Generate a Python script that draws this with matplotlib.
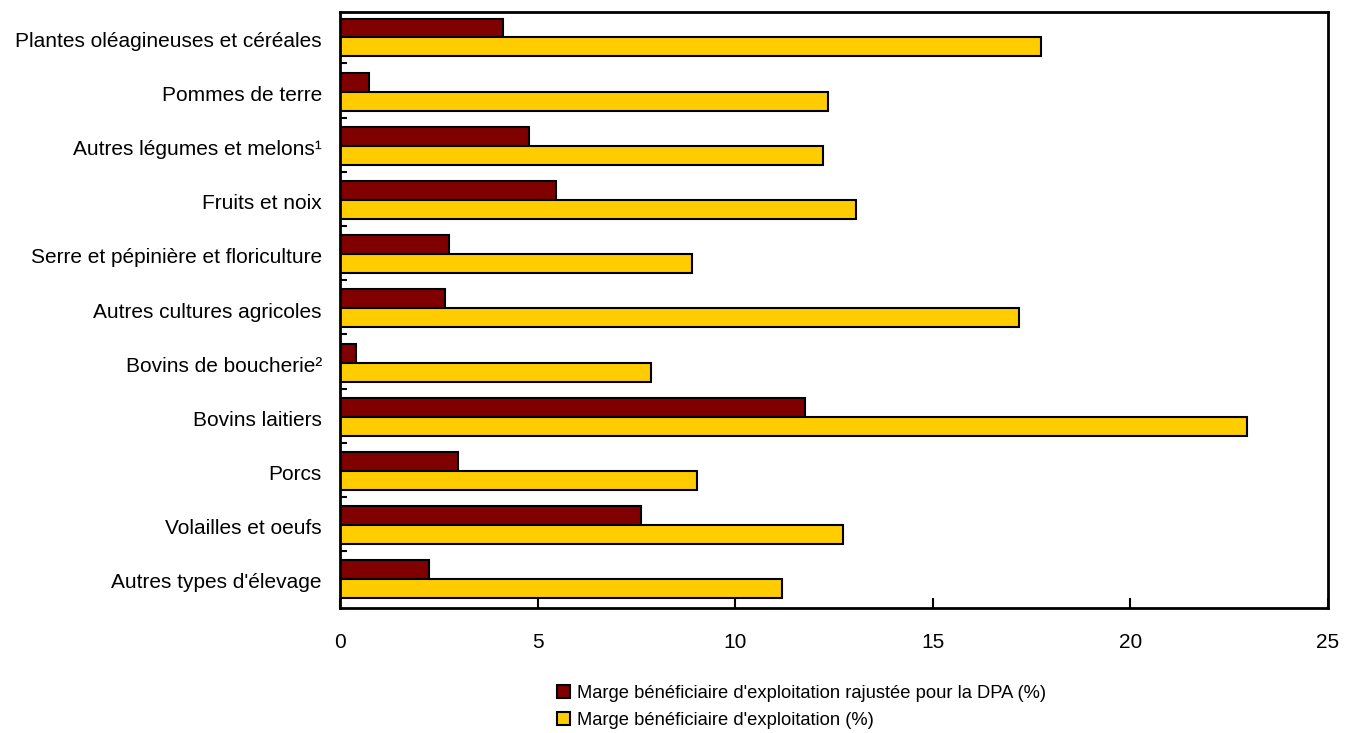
import matplotlib
matplotlib.use("Agg")
import matplotlib.pyplot as plt
import numpy as np
from matplotlib.patches import Patch

categories = ["Plantes oléagineuses et céréales", "Pommes de terre", "Autres légumes et melons¹",
              "Fruits et noix", "Serre et pépinière et floriculture", "Autres cultures agricoles",
              "Bovins de boucherie²", "Bovins laitiers", "Porcs", "Volailles et oeufs",
              "Autres types d'élevage"]
adjusted = [4.12, 0.73, 4.78, 5.47, 2.76, 2.66, 0.40, 11.77, 2.99, 7.62, 2.25]
operating = [17.74, 12.35, 12.22, 13.06, 8.91, 17.18, 7.87, 22.95, 9.03, 12.73, 11.18]
xticks = [0, 5, 10, 15, 20, 25]
labels = ["Marge bénéficiaire d'exploitation rajustée pour la DPA (%)",
          "Marge bénéficiaire d'exploitation (%)"]

plt.rcParams['font.family'] = ['Liberation Sans', 'DejaVu Sans']
fig = plt.figure(figsize=(13.51, 7.33), dpi=100)
ax = fig.add_axes([340/1351, 1-608/733, (1328-340)/1351, (608-12)/733])

y = np.arange(len(categories))
h = 0.35
ax.barh(y - h/2 - 0.03, adjusted, height=h, color="#800000", edgecolor="black", linewidth=1.5)
ax.barh(y + h/2 - 0.03, operating, height=h, color="#FFCC00", edgecolor="black", linewidth=1.5)

ax.set_xlim(0, 25)
ax.set_ylim(len(categories) - 0.5, -0.5)
ax.set_xticks(xticks)
ax.set_xticklabels([str(t) for t in xticks], fontsize=15)
ax.tick_params(axis='x', direction='in', length=7, width=1.5, pad=18)
ax.set_yticks(y)
ax.set_yticklabels(categories, fontsize=15)
ax.tick_params(axis='y', which='major', length=0, pad=13)
ax.set_yticks(np.arange(len(categories) - 1) + 0.45, minor=True)
ax.tick_params(axis='y', which='minor', direction='in', length=5, width=1.5)
for s in ax.spines.values():
    s.set_linewidth(2)

handles = [Patch(facecolor="#800000", edgecolor="black", linewidth=1.5),
           Patch(facecolor="#FFCC00", edgecolor="black", linewidth=1.5)]
fig.legend(handles, labels, loc="upper left", bbox_to_anchor=(557/1351, 1-685/733),
           frameon=False, fontsize=13.2, handlelength=0.7, handleheight=0.7,
           handletextpad=0.4, labelspacing=0.55, borderaxespad=0, borderpad=0)

fig.savefig("out.png", dpi=100)
